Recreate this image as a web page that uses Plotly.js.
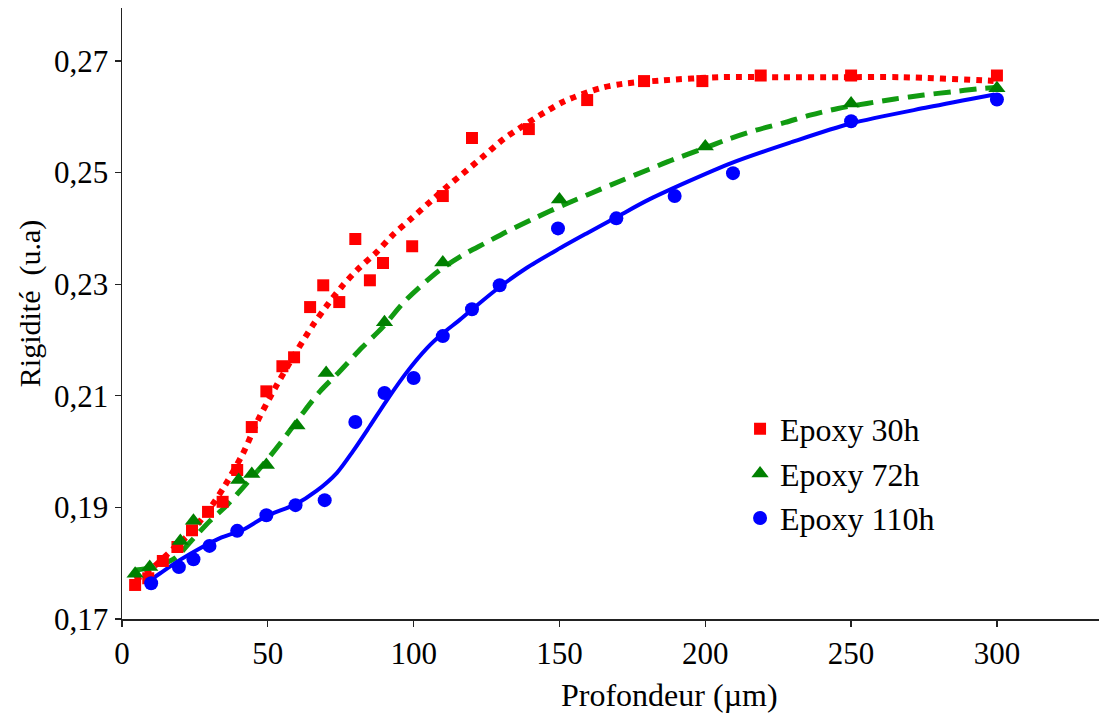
<!DOCTYPE html>
<html><head><meta charset="utf-8">
<script src="https://cdn.plot.ly/plotly-3.0.1.min.js"></script>
<style>html,body{margin:0;padding:0;background:#fff}#chart{width:1101px;height:720px}</style>
</head><body><div id="chart"></div>
<script>
// Series names
const seriesNames = ['Epoxy 30h', 'Epoxy 72h', 'Epoxy 110h'];

// Measured points
const x30 = [4.5, 9, 14, 19, 24, 29.5, 34.5, 39.5, 44.5, 49.5, 55, 59, 64.5, 69, 74.5, 80, 85, 89.5, 99.5, 110, 120, 139.5, 159.5, 179, 199, 219, 250, 300];
const y30 = [0.1761, 0.1773, 0.1804, 0.1829, 0.1859, 0.1892, 0.1910, 0.1967, 0.2044, 0.2108, 0.2153, 0.2169, 0.2259, 0.2298, 0.2268, 0.2381, 0.2307, 0.2338, 0.2368, 0.2458, 0.2562, 0.2578, 0.2630, 0.2664, 0.2664, 0.2674, 0.2674, 0.2674];

const x72 = [4.5, 9.5, 20, 24.5, 40, 44.5, 49.5, 60, 70, 90, 110, 150, 200, 250, 300];
const y72 = [0.1781, 0.1793, 0.1840, 0.1876, 0.1949, 0.1960, 0.1976, 0.2047, 0.2141, 0.2232, 0.2339, 0.2452, 0.2547, 0.2624, 0.2651];

const x110 = [10, 19.5, 24.5, 30, 39.5, 49.5, 59.5, 69.5, 80, 90, 100, 110, 120, 129.5, 149.5, 169.5, 189.5, 209.5, 250, 300];
const y110 = [0.1764, 0.1793, 0.1807, 0.1831, 0.1858, 0.1886, 0.1904, 0.1913, 0.2053, 0.2105, 0.2132, 0.2207, 0.2255, 0.2298, 0.2400, 0.2418, 0.2458, 0.2499, 0.2592, 0.2631];

// Fitted curves
const fit30x = [4.6, 10.7, 17.2, 23.4, 30.9, 35.4, 41.5, 46.6, 52.5, 58.6, 65.5, 70.3, 75.4, 80.9, 87.4, 92.8, 99.3, 105.5, 111.7, 118.2, 124.3, 130.8, 137.3, 144.9, 151.7, 163.7, 171.5, 184.6, 205.1, 226, 246.8, 267.4, 296.8, 300];
const fit30y = [0.1770, 0.1793, 0.1824, 0.1854, 0.1904, 0.1940, 0.1997, 0.2056, 0.2114, 0.2169, 0.2227, 0.2262, 0.2296, 0.2327, 0.2358, 0.2388, 0.2418, 0.2447, 0.2476, 0.2504, 0.2531, 0.2560, 0.2583, 0.2608, 0.2628, 0.2651, 0.2659, 0.2665, 0.2671, 0.2671, 0.2671, 0.2671, 0.2665, 0.2664];

const fit72x = [4.6, 10.7, 18.2, 23.4, 30.2, 36, 42.9, 49.7, 55.9, 62, 67.9, 74.7, 82.2, 89.4, 96.3, 102.1, 108.9, 116.8, 124.3, 131.9, 141.8, 151.4, 161.3, 170.9, 180.8, 189.4, 199.3, 207.9, 217.4, 227.4, 235.9, 245.5, 255.4, 265, 274.9, 284.8, 293.4, 300.6];
const fit72y = [0.1788, 0.1793, 0.1809, 0.1838, 0.1876, 0.1904, 0.1944, 0.1985, 0.2026, 0.2069, 0.2108, 0.2144, 0.2186, 0.2223, 0.2266, 0.2295, 0.2325, 0.2352, 0.2373, 0.2394, 0.2419, 0.2442, 0.2464, 0.2485, 0.2506, 0.2524, 0.2543, 0.2560, 0.2576, 0.2590, 0.2603, 0.2615, 0.2624, 0.2632, 0.2639, 0.2645, 0.2650, 0.2653];

const fit110x = [8.7, 13.1, 19.9, 26.8, 33.6, 41.5, 49.7, 59.3, 66.8, 73.7, 79.1, 84.9, 90.8, 97.6, 104.5, 110, 115.8, 122.6, 129.5, 138.7, 149, 159.3, 169.5, 180.8, 208.9, 229.8, 249.9, 276.3, 299.2];
const fit110y = [0.1766, 0.1782, 0.1806, 0.1827, 0.1845, 0.1860, 0.1885, 0.1905, 0.1930, 0.1962, 0.2000, 0.2045, 0.2092, 0.2142, 0.2185, 0.2212, 0.2236, 0.2266, 0.2295, 0.2329, 0.2361, 0.2391, 0.2420, 0.2452, 0.2517, 0.2555, 0.2588, 0.2617, 0.2640];

// Axis ticks
const xTicks = [0, 50, 100, 150, 200, 250, 300];
const yTicks = [0.17, 0.19, 0.21, 0.23, 0.25, 0.27];

const FONT = '"Liberation Serif", "Times New Roman", Tinos, serif';

const traces = [
  {x: fit30x, y: fit30y, mode: 'lines', line: {color: '#ff0000', width: 6, dash: '6px,6px', shape: 'spline', smoothing: 0.8}, showlegend: false, hoverinfo: 'skip'},
  {x: fit72x, y: fit72y, mode: 'lines', line: {color: '#119b11', width: 5, dash: '17px,9px', shape: 'spline', smoothing: 0.8}, showlegend: false, hoverinfo: 'skip'},
  {x: fit110x, y: fit110y, mode: 'lines', line: {color: '#0000ff', width: 4, shape: 'spline', smoothing: 0.8}, showlegend: false, hoverinfo: 'skip'},
  {x: x30, y: y30, mode: 'markers', name: seriesNames[0], legendgroup: 'a', marker: {symbol: 'square', size: 12, color: '#ff0000'}},
  {x: x72, y: y72, mode: 'markers', name: seriesNames[1], legendgroup: 'b', marker: {symbol: 'triangle-up', size: 15, color: '#008000'}},
  {x: x110, y: y110, mode: 'markers', name: seriesNames[2], legendgroup: 'c', marker: {symbol: 'circle', size: 14, color: '#0000ff'}}
];

const axisCommon = {
  showline: true, linecolor: '#222', linewidth: 1.5, mirror: false,
  showgrid: false, zeroline: false, ticks: 'outside', ticklen: 6, tickwidth: 1.2, tickcolor: '#222',
  tickfont: {family: FONT, size: 31, color: '#000'}
};

const layout = {
  width: 1101, height: 720,
  margin: {l: 122, r: 2, t: 8, b: 101},
  paper_bgcolor: '#fff', plot_bgcolor: '#fff',
  separators: ', ',
  font: {family: FONT, color: '#000'},
  xaxis: Object.assign({}, axisCommon, {range: [0, 335], tickmode: 'array', tickvals: xTicks, ticktext: xTicks.map(String)}),
  yaxis: Object.assign({}, axisCommon, {range: [0.17, 0.2795], tickmode: 'array', tickvals: yTicks, tickformat: '.2f'}),
  showlegend: true,
  legend: {x: 0.6326, y: 0.356, xanchor: 'left', yanchor: 'top', bgcolor: 'rgba(0,0,0,0)', font: {family: FONT, size: 32, color: '#000'}, traceorder: 'grouped', tracegroupgap: 0},
  annotations: [
    {text: 'Rigidité  (u.a)', xref: 'paper', yref: 'paper', x: -0.094, y: 0.5155, xanchor: 'center', yanchor: 'middle', textangle: -90, showarrow: false, font: {family: FONT, size: 30, color: '#000'}},
    {text: 'Profondeur (µm)', xref: 'paper', yref: 'paper', x: 0.56, y: -0.124, xanchor: 'center', yanchor: 'middle', showarrow: false, font: {family: FONT, size: 32, color: '#000'}}
  ]
};

Plotly.newPlot('chart', traces, layout, {displayModeBar: false, staticPlot: true});
</script>
</body></html>
